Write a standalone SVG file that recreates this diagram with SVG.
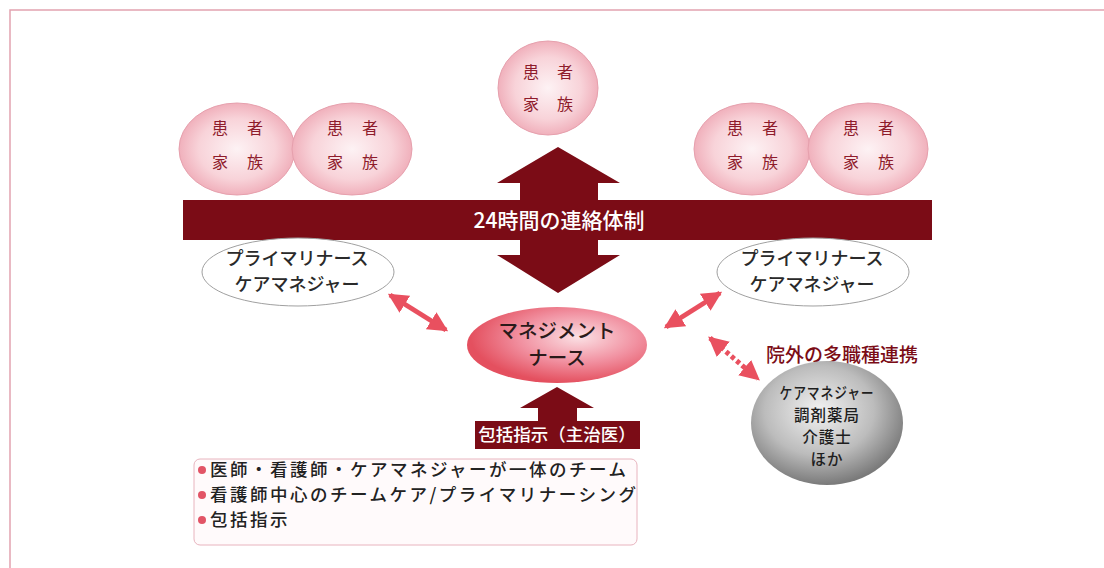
<svg xmlns="http://www.w3.org/2000/svg" width="1104" height="568" viewBox="0 0 1104 568">
<defs>
<radialGradient id="pinkG" cx="50%" cy="50%" r="55%">
<stop offset="0" stop-color="#fdf2f4"/>
<stop offset="0.6" stop-color="#f8d3d9"/>
<stop offset="1" stop-color="#eea6b3"/>
</radialGradient>
<radialGradient id="mgmtG" cx="62%" cy="40%" r="60%">
<stop offset="0" stop-color="#fbe0e4"/>
<stop offset="0.55" stop-color="#f190a0"/>
<stop offset="1" stop-color="#e4505f"/>
</radialGradient>
<radialGradient id="grayG" cx="45%" cy="40%" r="60%">
<stop offset="0" stop-color="#f2f2f2"/>
<stop offset="0.6" stop-color="#bcbcbc"/>
<stop offset="1" stop-color="#7a7a7a"/>
</radialGradient>
<marker id="ah" markerUnits="userSpaceOnUse" markerWidth="20" markerHeight="20" refX="14" refY="8" orient="auto-start-reverse" viewBox="0 0 16 16">
<path d="M0,0 L16,8 L0,16 Z" fill="#e9505f"/>
</marker>
<style>
.jp{font-family:"Noto Sans CJK JP","Noto Sans",sans-serif;font-weight:500;}
.pt{fill:#8e1b2b;font-size:16px;text-anchor:middle;font-weight:400;}
.pe{fill:url(#pinkG);stroke:#e6a0ad;stroke-width:1;}
.wt{fill:#2a2a2a;font-size:18px;text-anchor:middle;}
.dr{fill:#7b0c16;}
.pa{stroke:#e9505f;stroke-width:5;fill:none;}
.bl{fill:#222;font-size:17.5px;letter-spacing:2.5px;}
.dot{fill:#e25466;}
.gt{fill:#1e1e1e;font-size:15.5px;text-anchor:middle;letter-spacing:1px;}
</style>
</defs>
<rect width="1104" height="568" fill="#ffffff"/>
<path d="M10,568 L10,10 L1104,10" fill="none" stroke="#e2a3b0" stroke-width="1.5"/>

<g id="connectors">
<polygon class="dr" points="558,147 620,183 598,183 598,200 520,200 520,183 497,183"/>
<rect id="bar" class="dr" x="183" y="200" width="749" height="40"/>
<polygon class="dr" points="520,240 598,240 598,255 620,255 558,293 497,255 520,255"/>
<text class="jp" x="559" y="228" fill="#ffffff" font-size="21" text-anchor="middle">24時間の連絡体制</text>
<line class="pa" x1="390" y1="295" x2="446" y2="330" marker-start="url(#ah)" marker-end="url(#ah)"/>
<line class="pa" x1="720" y1="293" x2="666" y2="327" marker-start="url(#ah)" marker-end="url(#ah)"/>
<line class="pa" x1="710" y1="338" x2="758" y2="379" stroke-width="6" stroke-dasharray="4 3" marker-start="url(#ah)" marker-end="url(#ah)"/>
<polygon class="dr" points="557,387 594,408 577,408 577,421 538,421 538,408 520,408"/>
</g>

<g id="pf-top">
<ellipse class="pe" cx="548" cy="88" rx="50" ry="47"/>
<text class="jp pt" y="78"><tspan x="531">患</tspan><tspan x="565">者</tspan></text>
<text class="jp pt" y="110"><tspan x="531">家</tspan><tspan x="565">族</tspan></text>
</g>
<g id="pf-l1">
<ellipse class="pe" cx="237" cy="149" rx="58" ry="46"/>
<text class="jp pt" y="134"><tspan x="220">患</tspan><tspan x="255">者</tspan></text>
<text class="jp pt" y="168"><tspan x="220">家</tspan><tspan x="255">族</tspan></text>
</g>
<g id="pf-l2">
<ellipse class="pe" cx="352" cy="149" rx="60" ry="46"/>
<text class="jp pt" y="134"><tspan x="335">患</tspan><tspan x="370">者</tspan></text>
<text class="jp pt" y="168"><tspan x="335">家</tspan><tspan x="370">族</tspan></text>
</g>
<g id="pf-r1">
<ellipse class="pe" cx="752" cy="149" rx="58" ry="46"/>
<text class="jp pt" y="134"><tspan x="735">患</tspan><tspan x="770">者</tspan></text>
<text class="jp pt" y="168"><tspan x="735">家</tspan><tspan x="770">族</tspan></text>
</g>
<g id="pf-r2">
<ellipse class="pe" cx="868" cy="149" rx="60" ry="46"/>
<text class="jp pt" y="134"><tspan x="851">患</tspan><tspan x="886">者</tspan></text>
<text class="jp pt" y="168"><tspan x="851">家</tspan><tspan x="886">族</tspan></text>
</g>

<g id="pn-left">
<ellipse cx="298" cy="272" rx="96" ry="34" fill="#ffffff" stroke="#a0a0a0" stroke-width="1"/>
<text class="jp wt" x="297" y="265">プライマリナース</text>
<text class="jp wt" x="297" y="291">ケアマネジャー</text>
</g>
<g id="pn-right">
<ellipse cx="813" cy="272" rx="96" ry="34" fill="#ffffff" stroke="#a0a0a0" stroke-width="1"/>
<text class="jp wt" x="812" y="265">プライマリナース</text>
<text class="jp wt" x="812" y="291">ケアマネジャー</text>
</g>

<g id="mgmt">
<ellipse cx="557" cy="345" rx="90" ry="38" fill="url(#mgmtG)"/>
<text class="jp" x="557" y="338" fill="#2a1a1a" font-size="19.5" text-anchor="middle">マネジメント</text>
<text class="jp" x="557" y="365" fill="#2a1a1a" font-size="19.5" text-anchor="middle">ナース</text>
</g>

<g id="external-label">
<text class="jp" x="766" y="362" fill="#7b0c16" font-size="19">院外の多職種連携</text>
</g>

<g id="external">
<ellipse cx="827" cy="423" rx="76" ry="62" fill="url(#grayG)"/>
<text class="jp gt" x="827" y="399" textLength="95" lengthAdjust="spacingAndGlyphs">ケアマネジャー</text>
<text class="jp gt" x="827" y="421">調剤薬局</text>
<text class="jp gt" x="827" y="443">介護士</text>
<text class="jp gt" x="827" y="465">ほか</text>
</g>

<g id="directive">
<rect class="dr" x="475" y="421" width="165" height="28"/>
<text class="jp" x="557" y="441" fill="#ffffff" font-size="17.5" text-anchor="middle">包括指示（主治医）</text>
</g>

<g id="summary">
<rect x="194" y="459" width="443" height="86" rx="6" fill="#fffafb" stroke="#e8b4be" stroke-width="1"/>
<circle class="dot" cx="202" cy="470" r="4"/>
<text class="jp bl" x="210" y="476">医師・看護師・ケアマネジャーが一体のチーム</text>
<circle class="dot" cx="202" cy="495" r="4"/>
<text class="jp bl" x="210" y="501">看護師中心のチームケア/プライマリナーシング</text>
<circle class="dot" cx="202" cy="520" r="4"/>
<text class="jp bl" x="210" y="526">包括指示</text>
</g>
</svg>
